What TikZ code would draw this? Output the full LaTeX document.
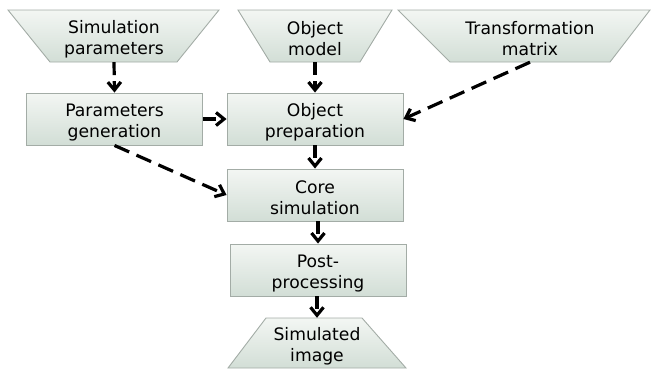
\documentclass[tikz,border=0pt]{standalone}
\usepackage{fontspec}
\setmainfont{DejaVu Sans}
\usetikzlibrary{arrows.meta}
\definecolor{boxtop}{HTML}{F3F6F3}
\definecolor{boxbot}{HTML}{D2DED6}
\definecolor{boxline}{HTML}{A3ACA6}
% two-line label; the strut lowers it a little inside its box
\newcommand{\twoline}[2]{\rule{0pt}{19pt}#1\\#2}
\tikzset{
  x=1pt, y=-1pt,
  boxfill/.style={draw=boxline, line width=0.9pt, top color=boxtop, bottom color=boxbot},
  boxtext/.style={align=center, font=\fontsize{17.2}{21}\selectfont},
  procbox/.style={boxfill, boxtext, minimum width=176pt, minimum height=52pt, inner sep=0pt},
  iolabel/.style={boxtext, minimum height=52pt, inner sep=0pt},
  flow/.style={line width=3.2pt, dash pattern=on 13pt off 6pt,
    -{Straight Barb[length=8pt,width=13pt]}},
  longflow/.style={flow, dash pattern=on 16pt off 8pt}
}
\begin{document}
\begin{tikzpicture}
\useasboundingbox (0,0) rectangle (655,370);

% input / output trapezoids
\path[boxfill] (8,10) -- (219,10) -- (177,62) -- (50,62) -- cycle;
\node[iolabel, minimum width=127pt] (simpar) at (114,36) {\twoline{Simulation}{parameters}};

\path[boxfill] (238,10) -- (392,10) -- (360,62) -- (270,62) -- cycle;
\node[iolabel, minimum width=90pt] (objmodel) at (315,36) {\twoline{Object}{model}};

\path[boxfill] (398,10) -- (650,10) -- (610,62) -- (450,62) -- cycle;
\node[iolabel, minimum width=160pt] (tmatrix) at (530,36) {\twoline{Transformation}{matrix}};

\path[boxfill] (266,318) -- (362,318) -- (406,368) -- (228,368) -- cycle;
\node[iolabel, minimum width=96pt, minimum height=50pt] (simimg) at (317,343) {\twoline{Simulated}{image}};

% processing steps
\node[procbox] (pgen)  at (114.5,119) {\twoline{Parameters}{generation}};
\node[procbox] (oprep) at (315,119)   {\twoline{Object}{preparation}};
\node[procbox] (core)  at (315,195)   {\twoline{Core}{simulation}};
\node[procbox] (post)  at (318,270)   {\twoline{Post-}{processing}};

% connectors
\draw[flow] (simpar.south) -- (pgen.north);
\draw[flow] (objmodel.south) -- (oprep.north);
\draw[flow] (pgen.east) -- (oprep.west);
\draw[flow] (oprep.south) -- (core.north);
\draw[flow] (post.north |- core.south) -- (post.north);
\draw[flow] (simimg.north |- post.south) -- (simimg.north);
\draw[longflow] (pgen.south) -- (core.west);
\draw[longflow] (tmatrix.south) -- (oprep.east);
\end{tikzpicture}
\end{document}
